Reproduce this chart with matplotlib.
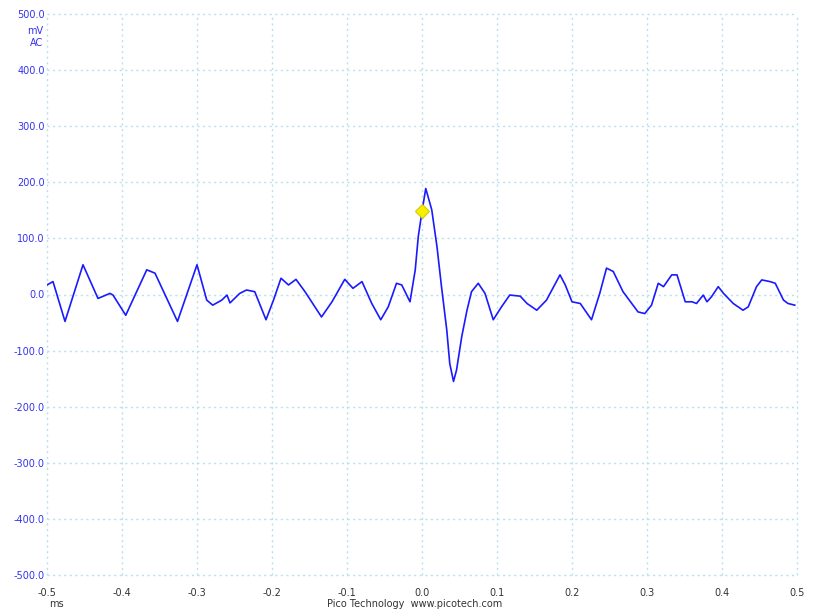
import matplotlib
matplotlib.use("Agg")
import matplotlib.pyplot as plt
import numpy as np

# waveform (time in ms, voltage in mV)
time_ms = [-0.500, -0.492, -0.476, -0.452, -0.432, -0.416, -0.412, -0.395,
           -0.367, -0.356, -0.326, -0.300, -0.287, -0.279, -0.267, -0.260,
           -0.256, -0.243, -0.234, -0.223, -0.208, -0.198, -0.188, -0.178,
           -0.168, -0.156, -0.134, -0.120, -0.103, -0.092, -0.080, -0.067,
           -0.055, -0.045, -0.034, -0.027, -0.016, -0.009, -0.005, 0.000,
           0.005, 0.013, 0.020, 0.026, 0.033, 0.037, 0.042, 0.046,
           0.053, 0.060, 0.066, 0.075, 0.084, 0.095, 0.106, 0.117,
           0.131, 0.140, 0.153, 0.166, 0.184, 0.191, 0.200, 0.211,
           0.226, 0.237, 0.246, 0.255, 0.268, 0.288, 0.297, 0.306,
           0.315, 0.322, 0.333, 0.340, 0.351, 0.360, 0.366, 0.375,
           0.380, 0.386, 0.395, 0.402, 0.415, 0.428, 0.435, 0.446,
           0.453, 0.464, 0.471, 0.482, 0.488, 0.497]
volts_mv = [17, 23, -48, 53, -7, 2, -1, -37,
            44, 38, -48, 53, -10, -19, -10, -1,
            -15, 2, 8, 5, -45, -10, 29, 17,
            27, 5, -40, -13, 27, 11, 23, -16,
            -45, -22, 20, 17, -13, 44, 103, 148,
            189, 151, 85, 14, -63, -123, -155, -135,
            -75, -28, 5, 20, 2, -45, -22, -1,
            -3, -16, -28, -10, 35, 17, -13, -16,
            -45, 2, 47, 41, 5, -31, -34, -19,
            20, 14, 35, 35, -13, -13, -16, -1,
            -13, -4, 14, 2, -16, -28, -22, 14,
            26, 23, 20, -10, -16, -19]

trigger_t = 0.0
trigger_v = 148

x_ticks = np.round(np.arange(-0.5, 0.51, 0.1), 1)
y_ticks = np.arange(-500, 501, 100)

fig = plt.figure(figsize=(8.14, 6.13), dpi=100)
ax = fig.add_axes([47 / 814, 1 - 575 / 613, 750 / 814, 561 / 613])

ax.plot(time_ms, volts_mv, color="#1a1aff", lw=1.2, zorder=3)
ax.plot([trigger_t], [trigger_v], marker="D", ms=7, color="#f5f000",
        mec="#d8c800", mew=0.8, zorder=4)

ax.set_xlim(-0.5, 0.5)
ax.set_ylim(-500, 500)
ax.set_xticks(x_ticks)
ax.set_yticks(y_ticks)
ax.set_xticklabels([f"{t + 0.0:.1f}" for t in x_ticks], fontsize=7, color="#333333")
ax.set_yticklabels([f"{v:.1f}" for v in y_ticks], fontsize=7, color="#3333ee")
ax.tick_params(length=0, pad=1.5)
ax.tick_params(axis="x", pad=9)

for s in ax.spines.values():
    s.set_visible(False)
ax.grid(True, color="#b8e0ee", linestyle=(0, (1.5, 2.5)), lw=1.0, zorder=1)
for gl in ax.get_xgridlines() + ax.get_ygridlines():
    gl.set_clip_on(False)

fig.text(43 / 814, 1 - 31 / 613, "mV", ha="right", va="center", fontsize=7, color="#3333ee")
fig.text(43 / 814, 1 - 43 / 613, "AC", ha="right", va="center", fontsize=7, color="#3333ee")
fig.text(49 / 814, 1 - 604 / 613, "ms", ha="left", va="center", fontsize=7, color="#333333")
fig.text(415 / 814, 1 - 604 / 613, "Pico Technology  www.picotech.com", ha="center",
         va="center", fontsize=7, color="#333333")

fig.savefig("out.png", dpi=100)
